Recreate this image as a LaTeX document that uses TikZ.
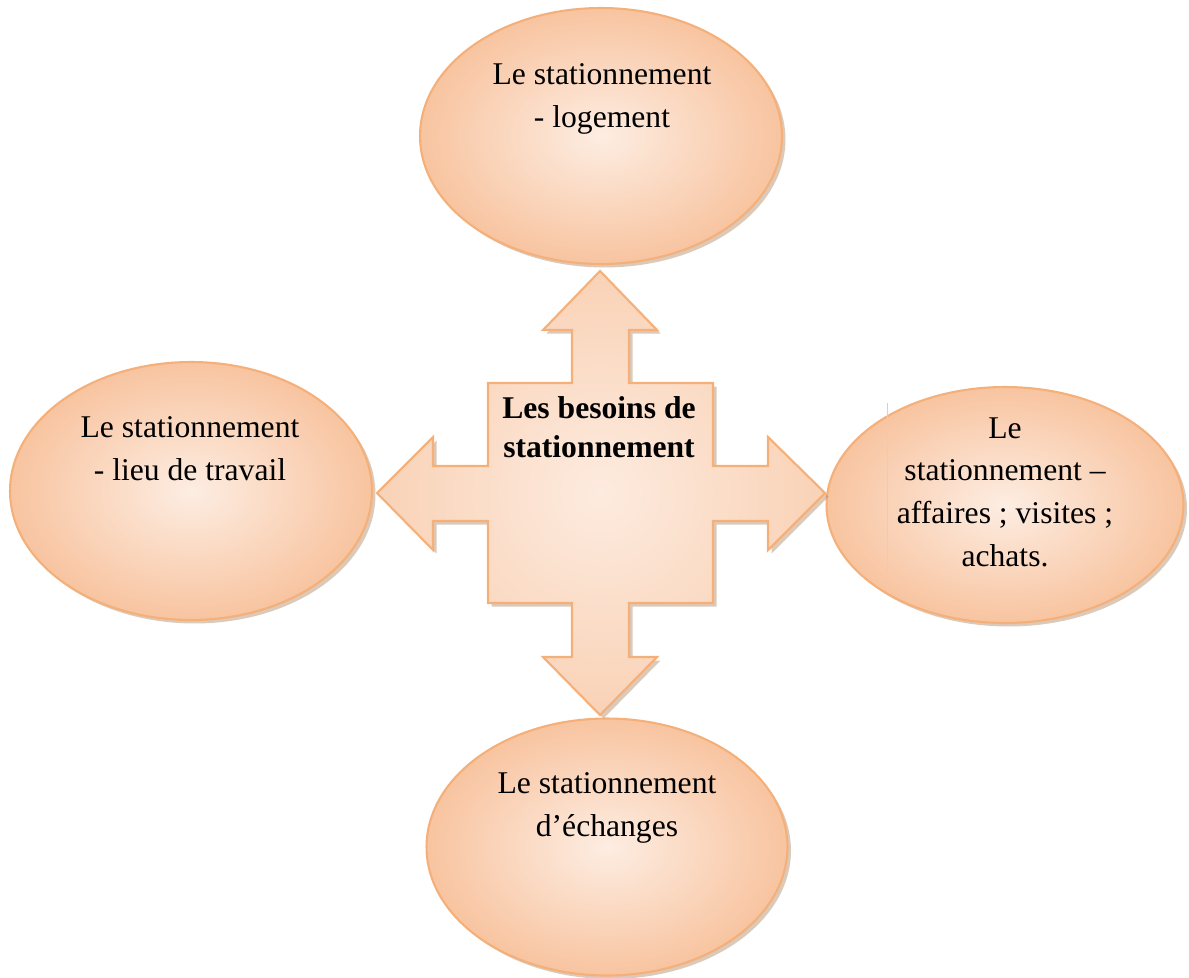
\documentclass[tikz,border=0pt]{standalone}
\usepackage{fontspec}
\setmainfont{Liberation Serif}
\usetikzlibrary{shapes.geometric,shadows}
\definecolor{edgec}{HTML}{F5B07A}
\definecolor{outerc}{HTML}{F8C4A0}
\definecolor{innerc}{HTML}{FDEDE2}
\definecolor{crossout}{HTML}{F9D2B6}
\definecolor{crossin}{HTML}{FDEBDF}
\definecolor{shad}{HTML}{B08868}
\tikzset{
  bubble/.style={ellipse, draw=edgec, line width=1.2pt, inner color=innerc, outer color=outerc,
    drop shadow={shadow xshift=0.07cm, shadow yshift=-0.07cm, fill=shad, opacity=0.45}, inner sep=0},
  lbl/.style={font=\fontsize{18}{24.2}\selectfont, align=center, anchor=base, inner sep=0},
  clbl/.style={font=\fontsize{18}{22.2}\selectfont\bfseries, align=center, anchor=base, inner sep=0},
  crossstyle/.style={draw=edgec, line width=1.2pt, line join=miter, inner color=crossin, outer color=crossout,
    drop shadow={shadow xshift=0.07cm, shadow yshift=-0.07cm, fill=shad, opacity=0.45}},
}
\begin{document}
\begin{tikzpicture}[x=0.02cm,y=-0.02cm]
\useasboundingbox (0,0) rectangle (1189,977);
\fill[white] (0,0) rectangle (1189,977);

% ellipses
\node[bubble, minimum width=7.24cm, minimum height=5.12cm] (top) at (601,136) {};
\node[bubble, minimum width=7.24cm, minimum height=5.16cm] (left) at (191,491) {};
\node[bubble, minimum width=7.14cm, minimum height=4.72cm] (right) at (1005,505) {};
\node[bubble, minimum width=7.22cm, minimum height=5.14cm] (bottom) at (607,847) {};
\draw[color=edgec!70, line width=0.4pt] (887,403) -- (887,587);

% central cross
\coordinate (c) at (600,493);
\path[crossstyle]
  (600,271) -- (657,330) -- (629,330) -- (629,383) -- (713,383) -- (713,466)
  -- (768,466) -- (768,437) -- (825,493) -- (768,550) -- (768,521) -- (713,521)
  -- (713,603) -- (629,603) -- (629,657) -- (657,657) -- (600,715) -- (543,657)
  -- (572,657) -- (572,603) -- (488,603) -- (488,521) -- (433,521) -- (433,550)
  -- (377,493) -- (433,437) -- (433,466) -- (488,466) -- (488,383) -- (572,383)
  -- (572,330) -- (543,330) -- cycle;

% labels (anchor = baseline of the last line)
\node[clbl] (ctext) at (599,457) {Les besoins de\\stationnement};
\node[lbl] (ttext) at (602,127) {Le stationnement\\- logement};
\node[lbl] (ltext) at (190,480) {Le stationnement\\- lieu de travail};
\node[lbl] (rtext) at (1005,566) {Le\\stationnement –\\affaires ; visites ;\\achats.};
\node[lbl] (btext) at (607,836) {Le stationnement\\d’échanges};
\end{tikzpicture}
\end{document}
